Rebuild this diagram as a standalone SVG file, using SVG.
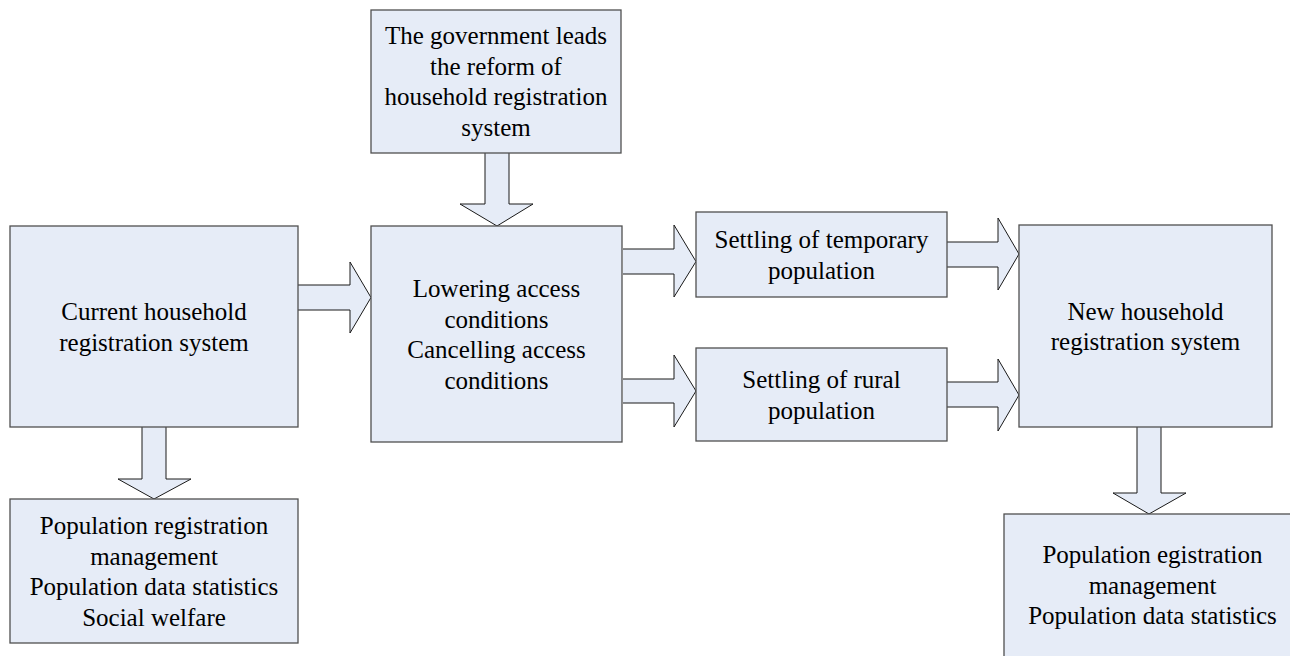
<svg xmlns="http://www.w3.org/2000/svg" width="1290" height="656" viewBox="0 0 1290 656">
<style>
.box{fill:#E6ECF7;stroke:#505050;stroke-width:1.3}
.arr{fill:#E6ECF7;stroke:#1a1a1a;stroke-width:1}
text{font-family:"Liberation Serif","Times New Roman",serif;font-size:25px;fill:#000;text-anchor:middle}
</style>
<rect width="1290" height="656" fill="#fff"/>
<g id="connectors">
<path class="arr" d="M298,285 H350 V262 L371,297.5 L350,333 V310 H298"/>
<path class="arr" d="M485,153 V204 H460 L497,226 L533,204 H509 V153"/>
<path class="arr" d="M623,249 H674 V225 L696,261.5 L674,297 V274 H623"/>
<path class="arr" d="M623,379 H674 V355 L696,391 L674,427 V403 H623"/>
<path class="arr" d="M947,242 H998 V218 L1019,254 L998,290 V267 H947"/>
<path class="arr" d="M947,382 H998 V359 L1019,395 L998,431 V407 H947"/>
<path class="arr" d="M142,427 V479 H118 L154,499 L191,479 H166 V427"/>
<path class="arr" d="M1137,427 V493 H1113 L1149,514 L1186,493 H1161 V427"/>
</g>
<g id="gov">
<rect class="box" x="371" y="10" width="250" height="143"/>
<text x="496" y="44">The government leads</text>
<text x="496" y="74.5">the reform of</text>
<text x="496" y="105">household registration</text>
<text x="496" y="135.5">system</text>
</g>
<g id="current">
<rect class="box" x="10" y="226" width="288" height="201"/>
<text x="154" y="320">Current household</text>
<text x="154" y="350.5">registration system</text>
</g>
<g id="conditions">
<rect class="box" x="371" y="226" width="251" height="216"/>
<text x="496.5" y="297">Lowering access</text>
<text x="496.5" y="327.5">conditions</text>
<text x="496.5" y="358">Cancelling access</text>
<text x="496.5" y="388.5">conditions</text>
</g>
<g id="temporary">
<rect class="box" x="696" y="212" width="251" height="85"/>
<text x="821.5" y="248">Settling of temporary</text>
<text x="821.5" y="278.5">population</text>
</g>
<g id="rural">
<rect class="box" x="696" y="348" width="251" height="93"/>
<text x="821.5" y="388">Settling of rural</text>
<text x="821.5" y="418.5">population</text>
</g>
<g id="newsystem">
<rect class="box" x="1019" y="225" width="253" height="202"/>
<text x="1145.5" y="319.5">New household</text>
<text x="1145.5" y="350">registration system</text>
</g>
<g id="functions-old">
<rect class="box" x="10" y="499" width="288" height="144"/>
<text x="154" y="534">Population registration</text>
<text x="154" y="564.5">management</text>
<text x="154" y="595">Population data statistics</text>
<text x="154" y="625.5">Social welfare</text>
</g>
<g id="functions-new">
<rect class="box" x="1004" y="514" width="296" height="160"/>
<text x="1152.5" y="563">Population egistration</text>
<text x="1152.5" y="593.5">management</text>
<text x="1152.5" y="624">Population data statistics</text>
</g>
</svg>
